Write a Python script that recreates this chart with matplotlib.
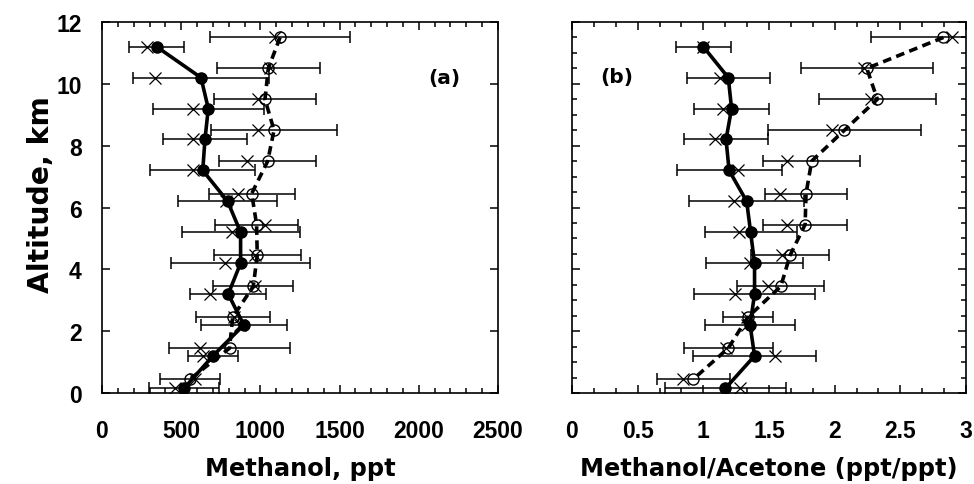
import matplotlib
matplotlib.use("Agg")
import matplotlib.pyplot as plt
from matplotlib.ticker import MultipleLocator, AutoMinorLocator

plt.rcParams['font.family'] = ['Liberation Sans', 'DejaVu Sans']
plt.rcParams['font.weight'] = 'bold'
WIDE = ['DejaVu Sans']

# ---------------- Panel (a): Methanol, ppt ----------------
alt_fill = [11.2, 10.2, 9.2, 8.2, 7.2, 6.2, 5.2, 4.2, 3.2, 2.2, 1.2, 0.15]
alt_open = [11.5, 10.5, 9.5, 8.5, 7.5, 6.45, 5.45, 4.45, 3.45, 2.45, 1.45, 0.45]

meoh_fill = [345, 625, 671, 650, 636, 793, 875, 875, 797, 895, 700, 518]
meoh_fill_err = [175, 430, 350, 263, 330, 314, 372, 440, 240, 273, 160, 220]
meoh_fill_x = [282, 335, 577, 577, 577, 780, 819, 776, 682, 870, 640, 461]

meoh_open = [1124, 1050, 1029, 1086, 1046, 945, 976, 980, 955, 825, 805, 556]
meoh_open_err = [444, 326, 325, 400, 305, 272, 262, 276, 252, 234, 384, 188]
meoh_open_x = [1092, 1061, 987, 987, 918, 861, 1029, 965, 965, 835, 619, 585]

# ---------------- Panel (b): Methanol/Acetone ----------------
ratio_fill = [1.00, 1.19, 1.215, 1.173, 1.196, 1.33, 1.36, 1.39, 1.39, 1.356, 1.39, 1.168]
ratio_fill_err = [0.21, 0.315, 0.285, 0.317, 0.40, 0.437, 0.35, 0.37, 0.46, 0.34, 0.47, 0.46]
ratio_fill_x = [1.0, 1.127, 1.15, 1.09, 1.267, 1.23, 1.274, 1.356, 1.241, 1.33, 1.546, 1.28]

ratio_open = [2.828, 2.245, 2.325, 2.074, 1.825, 1.782, 1.775, 1.66, 1.59, 1.338, 1.19, 0.924]
ratio_open_err = [0.55, 0.50, 0.445, 0.58, 0.37, 0.31, 0.32, 0.30, 0.33, 0.19, 0.34, 0.28]
ratio_open_x = [2.89, 2.22, 2.28, 1.98, 1.64, 1.584, 1.635, 1.597, 1.495, 1.33, 1.17, 0.848]

fig = plt.figure(figsize=(9.74, 4.85), dpi=100)
W, H = 974, 485
ax1 = fig.add_axes([102 / W, (H - 394) / H, 396 / W, 371 / H])
ax2 = fig.add_axes([572 / W, (H - 394) / H, 394 / W, 371 / H])

def draw(ax, alt_f, vf, ef, xf, alt_o, vo, eo, xo):
    ebkw = dict(ecolor='black', elinewidth=1.1, capsize=4, capthick=1.1)
    ax.errorbar(vf, alt_f, xerr=ef, fmt='none', zorder=2, **ebkw)
    ax.errorbar(vo, alt_o, xerr=eo, fmt='none', zorder=2, **ebkw)
    ax.plot(vf, alt_f, '-', color='black', lw=2.6, marker='o', ms=8,
            mfc='black', mec='black', zorder=4)
    ax.plot(vo, alt_o, color='black', lw=2.6, ls=(0, (2.4, 1.5)), marker='o',
            ms=8, mfc='none', mec='black', mew=1.0, zorder=3)
    ax.plot(xf, alt_f, 'x', color='black', ms=9, mew=0.9, zorder=5)
    ax.plot(xo, alt_o, 'x', color='black', ms=9, mew=0.9, zorder=5)
    ax.set_ylim(0, 12)
    for s in ax.spines.values():
        s.set_linewidth(1.2)
    ax.tick_params(which='both', direction='in', top=True, right=True,
                   width=1.1, labelsize=16.5)
    ax.tick_params(which='major', length=6)
    ax.tick_params(which='minor', length=3.5)
    ax.tick_params(axis='x', pad=18.5)

draw(ax1, alt_fill, meoh_fill, meoh_fill_err, meoh_fill_x,
     alt_open, meoh_open, meoh_open_err, meoh_open_x)
draw(ax2, alt_fill, ratio_fill, ratio_fill_err, ratio_fill_x,
     alt_open, ratio_open, ratio_open_err, ratio_open_x)

ax1.set_xlim(0, 2500)
ax1.xaxis.set_major_locator(MultipleLocator(500))
ax1.xaxis.set_minor_locator(MultipleLocator(100))
ax1.yaxis.set_major_locator(MultipleLocator(2))
ax1.tick_params(axis='y', pad=14.5)
ax1.set_xlabel('Methanol, ppt', fontsize=17.4, fontweight='bold',
               family=WIDE, labelpad=10)
ax1.set_ylabel('Altitude, km', fontsize=20.3, fontweight='bold', family=WIDE)
ax1.yaxis.set_label_coords((55.5 - 102) / 396, (394 - 195) / 371)
ax1.text(2160, 10.2, '(a)', fontsize=14.5, fontweight='bold', family=WIDE,
         ha='center', va='center')

ax2.set_xlim(0, 3)
ax2.xaxis.set_major_locator(MultipleLocator(0.5))
ax2.xaxis.set_minor_locator(AutoMinorLocator(3))
ax2.yaxis.set_major_locator(MultipleLocator(2))
ax2.yaxis.set_minor_locator(MultipleLocator(0.5))
ax2.tick_params(axis='y', labelleft=False)
ax2.xaxis.set_major_formatter(plt.FuncFormatter(lambda v, p: ('%g' % v)))
ax2.set_xlabel('Methanol/Acetone (ppt/ppt)', fontsize=17.4, fontweight='bold',
               family=WIDE, labelpad=10)
ax2.text(0.343, 10.25, '(b)', fontsize=14.5, fontweight='bold', family=WIDE,
         ha='center', va='center')

fig.savefig('out.png', dpi=100)
